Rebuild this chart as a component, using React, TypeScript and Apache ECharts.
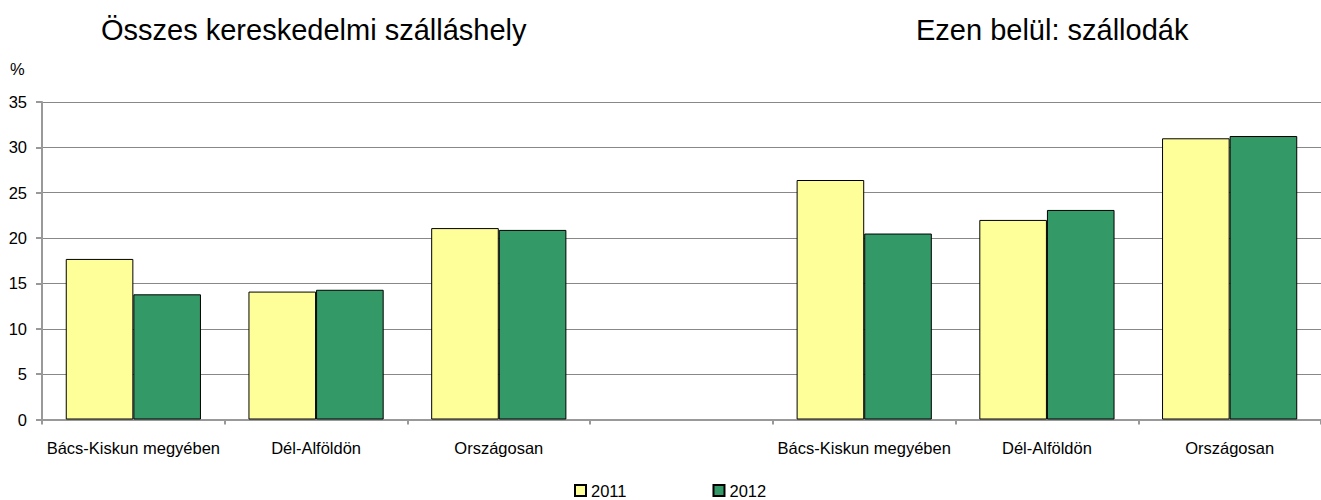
import React, { useEffect, useRef } from "react";
import * as echarts from "echarts";

const categories = [
  "Bács-Kiskun megyében",
  "Dél-Alföldön",
  "Országosan",
  "",
  "Bács-Kiskun megyében",
  "Dél-Alföldön",
  "Országosan",
];
const values2011 = [17.7, 14.1, 21.1, null, 26.4, 22.0, 31.0];
const values2012 = [13.8, 14.3, 20.9, null, 20.5, 23.1, 31.25];
const seriesNames = ["2011", "2012"];
const titleLeft = "Összes kereskedelmi szálláshely";
const titleRight = "Ezen belül: szállodák";
const unitLabel = "%";

const SANS = "'Liberation Sans', Arial, sans-serif";
const FS = 16.5;

export default function App() {
  const ref = useRef<HTMLDivElement>(null);
  useEffect(() => {
    if (!ref.current) return;
    const chart = echarts.init(ref.current, null, { renderer: "svg" });
    chart.setOption({
      animation: false,
      backgroundColor: "#ffffff",
      title: [
        {
          text: titleLeft,
          left: 96,
          top: 10,
          textStyle: { fontFamily: SANS, fontSize: 29, fontWeight: "normal", color: "#000" },
        },
        {
          text: titleRight,
          left: 911,
          top: 10,
          textStyle: { fontFamily: SANS, fontSize: 29, fontWeight: "normal", color: "#000" },
        },
      ],
      graphic: [
        {
          type: "text",
          left: 10,
          top: 60,
          style: { text: unitLabel, fontFamily: SANS, fontSize: FS, fill: "#000" },
        },
      ],
      legend: {
        left: 574,
        top: 482,
        padding: 0,
        itemWidth: 11,
        itemHeight: 11,
        itemGap: 86,
        icon: "rect",
        data: seriesNames,
        textStyle: { fontFamily: SANS, fontSize: FS, color: "#000" },
      },
      grid: { left: 42, top: 102, width: 1290, height: 317.5, containLabel: false },
      xAxis: {
        type: "category",
        data: categories,
        axisLine: { lineStyle: { color: "#999", width: 2 } },
        axisTick: { show: true, interval: 0, length: 5, lineStyle: { color: "#999", width: 2 } },
        axisLabel: { interval: 0, margin: 20, fontFamily: SANS, fontSize: FS, color: "#000" },
      },
      yAxis: {
        type: "value",
        min: 0,
        max: 35,
        interval: 5,
        axisLine: { show: true, lineStyle: { color: "#999", width: 2 } },
        axisTick: { show: true, length: 6, lineStyle: { color: "#999", width: 2 } },
        axisLabel: { margin: 15, fontFamily: SANS, fontSize: FS, color: "#000" },
        splitLine: { lineStyle: { color: "#888", width: 1 } },
      },
      series: [
        {
          name: seriesNames[0],
          type: "bar",
          data: values2011,
          barGap: "0%",
          barCategoryGap: "26%",
          itemStyle: { color: "#FFFF99", borderColor: "#000", borderWidth: 1 },
        },
        {
          name: seriesNames[1],
          type: "bar",
          data: values2012,
          barGap: "0%",
          barCategoryGap: "26%",
          itemStyle: { color: "#339966", borderColor: "#000", borderWidth: 1 },
        },
      ],
    });
    return () => chart.dispose();
  }, []);
  return (
    <div
      ref={ref}
      style={{ position: "fixed", left: 0, top: 0, width: 1321, height: 500 }}
    />
  );
}
